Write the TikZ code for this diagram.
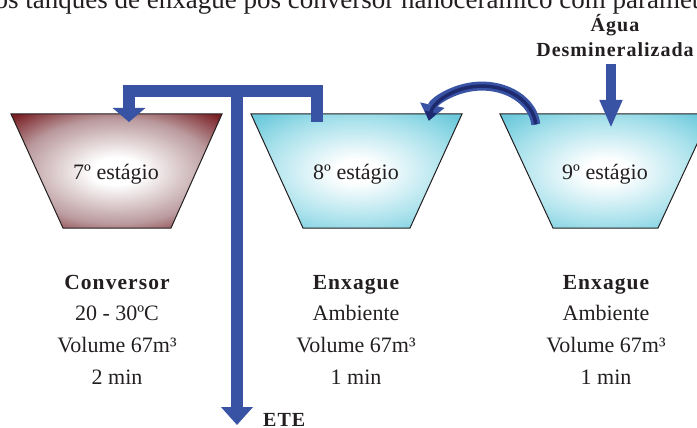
\documentclass[tikz,border=0pt]{standalone}
\usepackage{fontspec}
\setmainfont{Liberation Serif}
\newfontfamily\bfspaced[LetterSpace=5]{Liberation Serif Bold}
\usetikzlibrary{arrows.meta}
\definecolor{pipe}{HTML}{3953A4}
\definecolor{navy}{HTML}{1E2A6E}
\definecolor{tred}{HTML}{7A2025}
\definecolor{tredmid}{HTML}{BA9A9D}
\definecolor{tcyan}{HTML}{6DCADC}
\definecolor{tcyanmid}{HTML}{ABE2EC}
\definecolor{edge}{HTML}{231F20}
\definecolor{ink}{HTML}{231F20}
\pgfdeclareradialshading{redtank}{\pgfpoint{0bp}{0bp}}{color(0bp)=(white); color(6bp)=(white); color(23bp)=(tredmid); color(34bp)=(tred); color(50bp)=(tred)}
\pgfdeclareradialshading{cyantank}{\pgfpoint{0bp}{0bp}}{color(0bp)=(white); color(5bp)=(white); color(22bp)=(tcyanmid); color(33bp)=(tcyan); color(50bp)=(tcyan)}
\tikzset{
  tankline/.style={draw=edge, line width=1pt},
  lbl/.style={inner sep=0pt, anchor=base, text=ink, font=\fontsize{22}{26}\selectfont},
  boldlbl/.style={inner sep=0pt, anchor=base, text=ink, font=\fontsize{21.5}{26}\bfspaced},
  pipeline/.style={draw=pipe, line width=12pt, line join=miter},
}
\begin{document}
\begin{tikzpicture}[x=1pt,y=-1pt]
\useasboundingbox (0,0) rectangle (697,428);
% cut caption at top
\node[inner sep=0pt, anchor=base west, text=ink, font=\fontsize{27}{31}\selectfont] (cap) at (-19,9) {dos tanques de enxágue pós conversor nanocerâmico com parâmetros};
% tanks
\shade[shading=redtank, tankline] (11,114) -- (222,114) -- (171,228) -- (63,228) -- cycle;
\shade[shading=cyantank, tankline] (251,114) -- (462,114) -- (410,228) -- (303,228) -- cycle;
\shade[shading=cyantank, tankline] (500,114) -- (711,114) -- (658,228) -- (553,228) -- cycle;
\node[lbl] (t7) at (116,179) {7º estágio};
\node[lbl] (t8) at (356,179) {8º estágio};
\node[lbl] (t9) at (605,179) {9º estágio};
% info columns
\node[boldlbl] (a1) at (117,289) {Conversor};
\node[lbl] (a2) at (117,320) {20 - 30ºC};
\node[lbl] (a3) at (117,352) {Volume 67m³};
\node[lbl] (a4) at (117,384) {2 min};
\node[boldlbl] (b1) at (356,289) {Enxague};
\node[lbl] (b2) at (356,320) {Ambiente};
\node[lbl] (b3) at (356,352) {Volume 67m³};
\node[lbl] (b4) at (356,384) {1 min};
\node[boldlbl] (c1) at (606,289) {Enxague};
\node[lbl] (c2) at (606,320) {Ambiente};
\node[lbl] (c3) at (606,352) {Volume 67m³};
\node[lbl] (c4) at (606,384) {1 min};
% water label
\node[inner sep=0pt, anchor=base, text=ink, font=\fontsize{20}{24}\bfspaced] (ag) at (615,32) {Água};
\node[inner sep=0pt, anchor=base, text=ink, font=\fontsize{20}{24}\bfspaced] (dm) at (615,57) {Desmineralizada};
\node[inner sep=0pt, anchor=base west, text=ink, font=\fontsize{20}{24}\bfspaced] (ete) at (263,426) {ETE};
% pipe coordinates
\coordinate (p8) at (317,122);
\coordinate (pr) at (317,91);
\coordinate (pl) at (129,91);
\coordinate (in7) at (129,122);
\coordinate (mt) at (237,85);
\coordinate (mb) at (237,425);
\coordinate (wt) at (611,64);
\coordinate (wb) at (611,128);
\coordinate (c9) at (535.8,124.4);
% pipes
\draw[pipeline, -{Triangle[width=32pt,length=14pt]}] (p8) -- (pr) -- (pl) -- (in7);
\draw[draw=pipe, line width=12pt, -{Triangle[width=31pt,length=18pt]}] (mt) -- (mb);
\draw[draw=pipe, line width=10pt, -{Triangle[width=21pt,length=28pt]}] (wt) -- (wb);
% recirculation arrow 9 -> 8
\draw[draw=pipe, line width=9pt, -{Triangle[width=24pt,length=16pt]}] (c9) arc[start angle=-5, end angle=-170, x radius=54, y radius=42];
\draw[draw=navy, line width=3.5pt, -{Triangle[width=12pt,length=9pt]}] (c9) arc[start angle=-5, end angle=-170, x radius=54, y radius=42];
\end{tikzpicture}
\end{document}
